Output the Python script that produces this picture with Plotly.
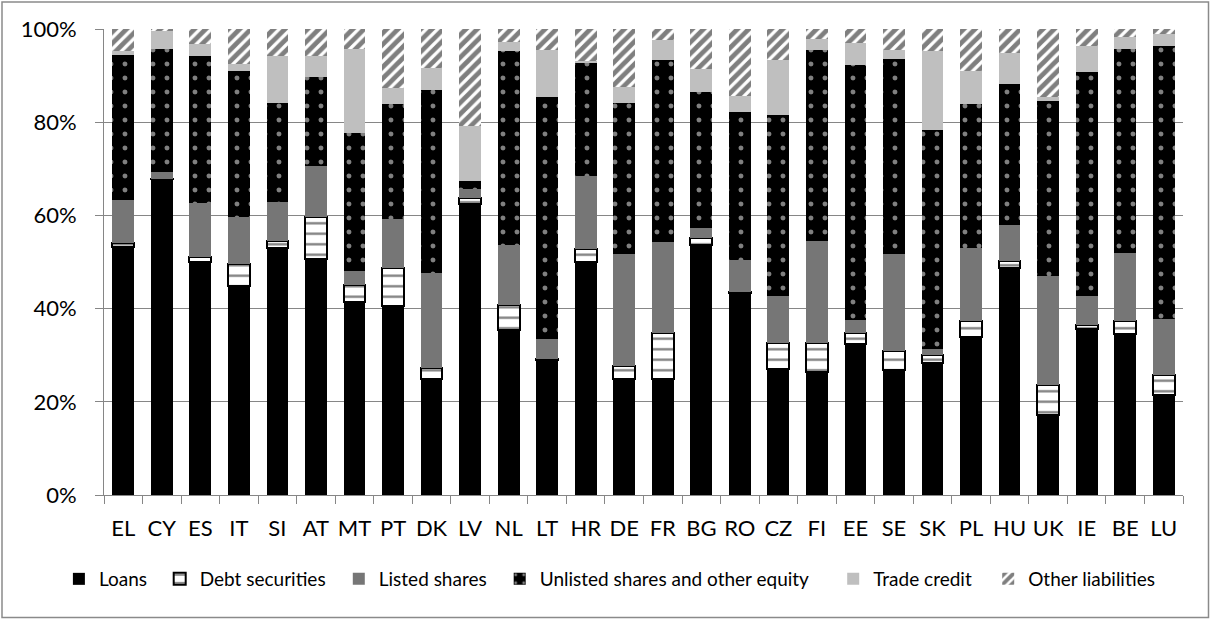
import plotly.graph_objects as go

categories = ["EL", "CY", "ES", "IT", "SI", "AT", "MT", "PT", "DK", "LV", "NL", "LT", "HR", "DE",
              "FR", "BG", "RO", "CZ", "FI", "EE", "SE", "SK", "PL", "HU", "UK", "IE", "BE", "LU"]

loans = [53.3, 67.8, 50.1, 44.8, 53.0, 50.6, 41.5, 40.6, 24.9, 62.5, 35.5, 29.0, 50.0, 25.0,
         25.0, 53.7, 43.4, 27.0, 26.4, 32.3, 26.9, 28.3, 33.9, 48.8, 17.2, 35.6, 34.6, 21.5]
debt_securities = [0.7, 0.1, 0.9, 4.8, 1.6, 9.1, 3.6, 8.2, 2.4, 1.2, 5.3, 0.2, 2.8, 2.7,
                   9.8, 1.5, 0.1, 5.6, 6.2, 2.5, 4.1, 1.7, 3.4, 1.5, 6.3, 0.9, 2.7, 4.2]
listed_shares = [9.2, 1.5, 11.7, 10.0, 8.3, 11.0, 3.0, 10.5, 20.3, 2.0, 12.9, 4.3, 15.6, 24.0,
                 19.5, 2.2, 7.0, 10.2, 22.0, 2.7, 20.8, 1.4, 15.8, 7.6, 23.6, 6.1, 14.6, 12.1]
unlisted_shares = [31.3, 26.3, 31.4, 31.3, 21.2, 18.9, 29.6, 24.6, 39.4, 1.6, 41.6, 52.0, 24.2, 32.4,
                   39.1, 29.0, 31.6, 38.8, 41.0, 54.7, 41.8, 47.0, 30.8, 30.4, 37.5, 48.1, 43.9, 58.6]
trade_credit = [0.7, 4.0, 2.7, 1.6, 10.0, 4.5, 18.0, 3.4, 4.6, 11.9, 2.0, 10.1, 0.6, 3.5,
                4.3, 5.0, 3.6, 11.8, 2.3, 4.9, 1.8, 16.8, 7.0, 6.5, 0.9, 5.6, 2.5, 2.6]
other_liabilities = [4.8, 0.3, 3.2, 7.5, 5.9, 5.9, 4.3, 12.7, 8.4, 20.8, 2.7, 4.4, 6.8, 12.4,
                     2.3, 8.6, 14.3, 6.6, 2.1, 2.9, 4.6, 4.8, 9.1, 5.2, 14.5, 3.7, 1.7, 1.0]

series_names = ["Loans", "Debt securities", "Listed shares",
                "Unlisted shares and other equity", "Trade credit", "Other liabilities"]
series_values = [loans, debt_securities, listed_shares, unlisted_shares, trade_credit, other_liabilities]
y_tick_values = [0, 20, 40, 60, 80, 100]
y_tick_labels = ["0%", "20%", "40%", "60%", "80%", "100%"]

FONT = "Lato"

# plot area in pixels
L, R, T, B = 104, 29, 29, 125
W, H = 1212, 620
PW, PH = W - L - R, H - T - B


def px_to_paper_x(px):
    return (px - L) / PW


def px_to_paper_y(py):
    return (H - B - py) / PH


styles = [
    dict(color="#000000", pattern=None, line=dict(width=0)),
    dict(color="#ffffff", pattern=dict(shape="-", fgcolor="#000000", bgcolor="#ffffff",
                                       size=10.5, solidity=0.22, fillmode="overlay"),
         line=dict(width=2, color="#000000")),
    dict(color="#767676", pattern=None, line=dict(width=0)),
    dict(color="#000000", pattern=dict(shape=".", fgcolor="#ffffff", bgcolor="#000000",
                                       size=14, solidity=0.1, fillmode="overlay"),
         line=dict(width=0)),
    dict(color="#bfbfbf", pattern=None, line=dict(width=0)),
    dict(color="#ffffff", pattern=dict(shape="/", fgcolor="#000000", bgcolor="#ffffff",
                                       size=8, solidity=0.6, fillmode="overlay"),
         line=dict(width=0)),
]

legend_text_x = [98.9, 199.7, 378.8, 539.7, 873.2, 1028.2]
legend_ids = ["legend", "legend2", "legend3", "legend4", "legend5", "legend6"]

fig = go.Figure()
for name, vals, st, lid in zip(series_names, series_values, styles, legend_ids):
    marker = dict(color=st["color"], line=st["line"])
    if st["pattern"] is not None:
        marker["pattern"] = st["pattern"]
    fig.add_trace(go.Bar(x=categories, y=vals, name=name, marker=marker, legend=lid))

legend_layouts = {}
for lid, tx in zip(legend_ids, legend_text_x):
    legend_layouts[lid] = dict(
        x=px_to_paper_x(tx - 40), xanchor="left",
        y=px_to_paper_y(579), yanchor="middle",
        orientation="h", bgcolor="rgba(0,0,0,0)", borderwidth=0,
        font=dict(family=FONT, size=19, color="#000000"),
        itemclick=False, itemdoubleclick=False,
    )

fig.update_layout(
    width=W, height=H,
    margin=dict(l=L, r=R, t=T, b=B, autoexpand=False),
    paper_bgcolor="#ffffff", plot_bgcolor="#ffffff",
    barmode="stack", bargap=0.434,
    font=dict(family=FONT, color="#000000"),
    showlegend=True,
    **legend_layouts,
    xaxis=dict(
        type="category", tickson="boundaries", ticks="outside", ticklen=8,
        tickcolor="#868686", tickwidth=1, showline=True, linecolor="#868686", linewidth=1,
        showgrid=False, tickfont=dict(family=FONT, size=22, color="#000000"),
        tickangle=0, ticklabelstandoff=14,
    ),
    yaxis=dict(
        range=[0, 100], tickvals=y_tick_values, ticktext=y_tick_labels,
        ticks="outside", ticklen=8, tickcolor="#868686", tickwidth=1,
        showline=True, linecolor="#868686", linewidth=1,
        showgrid=True, gridcolor="#868686", gridwidth=1, zeroline=False,
        tickfont=dict(family=FONT, size=22, color="#000000"),
        ticklabelstandoff=14,
    ),
    shapes=[dict(type="rect", xref="paper", yref="paper",
                 x0=px_to_paper_x(2), x1=px_to_paper_x(1208.5),
                 y0=px_to_paper_y(617.5), y1=px_to_paper_y(2),
                 line=dict(color="#8a8a8a", width=1.5), fillcolor="rgba(0,0,0,0)", layer="below")],
)

fig.write_html("out.html", config={"displayModeBar": False},
               post_script="document.body.style.margin='0';document.body.style.overflow='hidden';")
